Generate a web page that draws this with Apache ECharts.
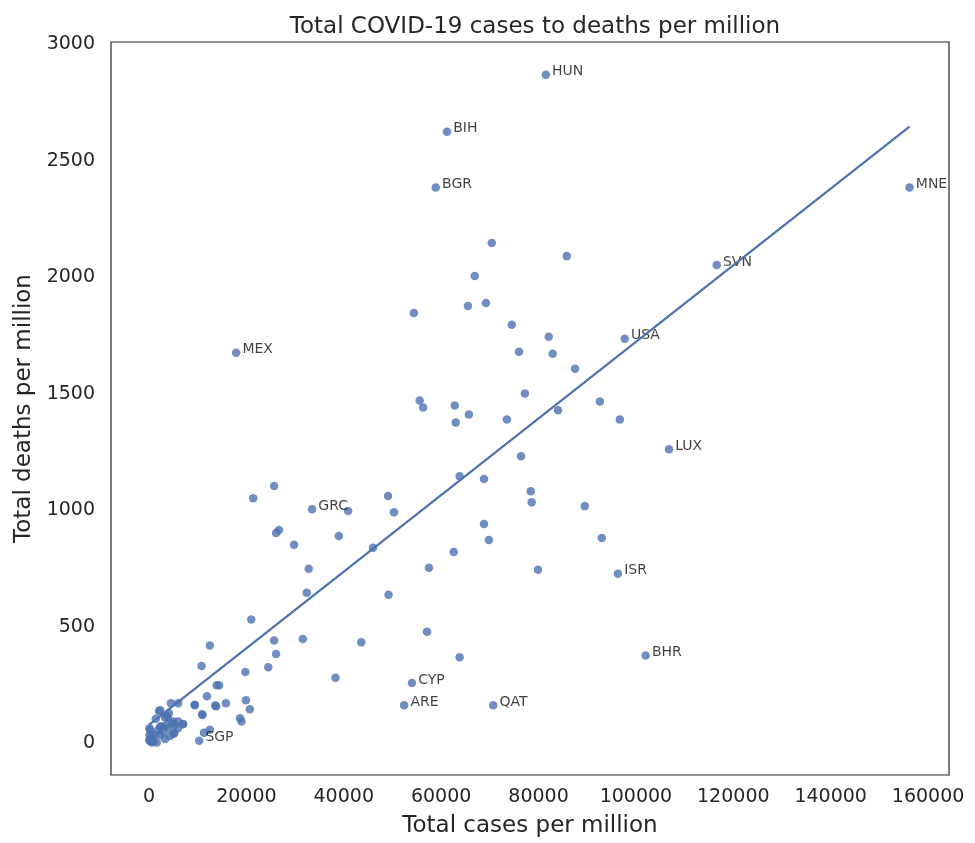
<!DOCTYPE html>
<html>
<head>
<meta charset="utf-8">
<script src="https://cdn.jsdelivr.net/npm/echarts@6/dist/echarts.min.js"></script>
<style>html,body{margin:0;padding:0;background:#fff}#c{width:975px;height:843px}</style>
</head>
<body>
<div id="c"></div>
<script>
// Labelled countries
const labelCodes = ['HUN','BIH','BGR','MNE','SVN','USA','MEX','LUX','GRC','ISR','BHR','CYP','ARE','QAT','SGP'];
const labelCases = [81500, 61200, 58900, 156200, 116600, 97700, 17900, 106800, 33500, 96300, 102000, 54000, 52400, 70700, 10300];
const labelDeaths = [2868, 2624, 2385, 2385, 2052, 1735, 1675, 1261, 1004, 727, 376, 258, 162, 162, 10];

// Other countries
const otherCases = [
  70400, 85800, 66900, 65500, 69200, 54400, 74500, 82100, 76000, 82900, 87500,
  77200, 92600, 84000, 73500, 96700, 76400, 68800, 78400, 78600, 89500, 68800, 69800, 93000, 79900,
  55600, 56300, 62800, 63000, 65700, 63800, 62600,
  25700, 21400, 40900, 49100, 50300, 26700, 26100, 29800, 39000, 46000, 57500, 32800, 32400, 49200,
  21000, 57100, 12500, 25700, 31600, 43600, 26100, 10800, 24500, 19800, 38300, 63800,
  13900, 14400, 11900, 4500, 6000, 2300, 9400, 13800, 15800, 19900, 20700, 10900, 18700, 3700,
  1400, 3300, 4700, 5300, 2300, 200, 100, 550, 100, 1200, 2900, 4000, 5000, 7000, 6000, 100, 2600,
  5200, 550, 2300, 100, 900, 2050, 4100, 11000, 9400, 13600, 7000, 5100, 12500, 11300, 19000, 3800,
  1600, 3300, 4300, 600, 1850, 3500, 5950
];
const otherDeaths = [
  2146, 2090, 2005, 1876, 1889, 1846, 1795, 1744, 1680, 1671, 1607,
  1500, 1466, 1428, 1389, 1389, 1231, 1133, 1081, 1034, 1017, 940, 872, 880, 744,
  1470, 1440, 1449, 1376, 1410, 1145, 820,
  1103, 1051, 996, 1060, 991, 915, 902, 851, 889, 838, 752, 748, 645, 637,
  530, 478, 419, 440, 447, 433, 382, 331, 325, 305, 280, 368,
  248, 248, 201, 171, 171, 141, 162, 158, 171, 184, 145, 124, 107, 115,
  104, 110, 85, 78, 71, 57, 35, 10, 10, 35, 50, 64, 93, 82, 93, 64, 71,
  43, 29, 35, 14, 7, 138, 128, 121, 164, 161, 81, 40, 57, 44, 93, 110,
  2, 17, 30, 2, 56, 77, 64
];

// Regression line end points
const fitCases = [0, 156200];
const fitDeaths = [78, 2646];

// Ticks
const xTicks = [0, 20000, 40000, 60000, 80000, 100000, 120000, 140000, 160000];
const yTicks = [0, 500, 1000, 1500, 2000, 2500, 3000];

const FONT = 'DejaVu Sans';
const TXT = '#262626';
const DOT = '#4C72B0';

const labelled = labelCodes.map((c, i) => ({ name: c, value: [labelCases[i], labelDeaths[i]] }));
const others = otherCases.map((x, i) => [x, otherDeaths[i]]);

const chart = echarts.init(document.getElementById('c'), null, { renderer: 'canvas' });
chart.setOption({
  animation: false,
  backgroundColor: '#ffffff',
  title: {
    text: 'Total COVID-19 cases to deaths per million',
    left: 530, top: 11, textAlign: 'center',
    textStyle: { fontFamily: FONT, fontSize: 23, fontWeight: 'normal', color: TXT }
  },
  grid: { left: 111, right: 26, top: 42, bottom: 66, show: true, borderColor: TXT, borderWidth: 1.2, containLabel: false },
  xAxis: {
    type: 'value', min: -7800, max: 164300,
    name: 'Total cases per million', nameLocation: 'middle', nameGap: 40,
    nameTextStyle: { fontFamily: FONT, fontSize: 23, color: TXT },
    axisLine: { show: false }, axisTick: { show: false }, splitLine: { show: false },
    axisLabel: { customValues: xTicks, formatter: v => String(v), fontFamily: FONT, fontSize: 19, color: TXT, margin: 13 }
  },
  yAxis: {
    type: 'value', min: -137, max: 3009,
    name: 'Total deaths per million', nameLocation: 'middle', nameGap: 74, nameRotate: 90,
    nameTextStyle: { fontFamily: FONT, fontSize: 23, color: TXT },
    axisLine: { show: false }, axisTick: { show: false }, splitLine: { show: false },
    axisLabel: { customValues: yTicks, formatter: v => String(v), fontFamily: FONT, fontSize: 19, color: TXT, margin: 16 }
  },
  series: [
    {
      type: 'scatter', symbolSize: 8.5, data: others,
      itemStyle: { color: DOT, opacity: 0.8 }
    },
    {
      type: 'scatter', symbolSize: 8.5, data: labelled,
      itemStyle: { color: DOT, opacity: 0.8 },
      label: {
        show: true, position: 'right', distance: 2, offset: [0, -3],
        formatter: p => p.name,
        fontFamily: FONT, fontSize: 14, color: '#111'
      }
    },
    {
      type: 'line', data: fitCases.map((x, i) => [x, fitDeaths[i]]),
      showSymbol: false, symbol: 'none',
      lineStyle: { color: DOT, width: 2.2 }
    }
  ]
});
</script>
</body>
</html>
